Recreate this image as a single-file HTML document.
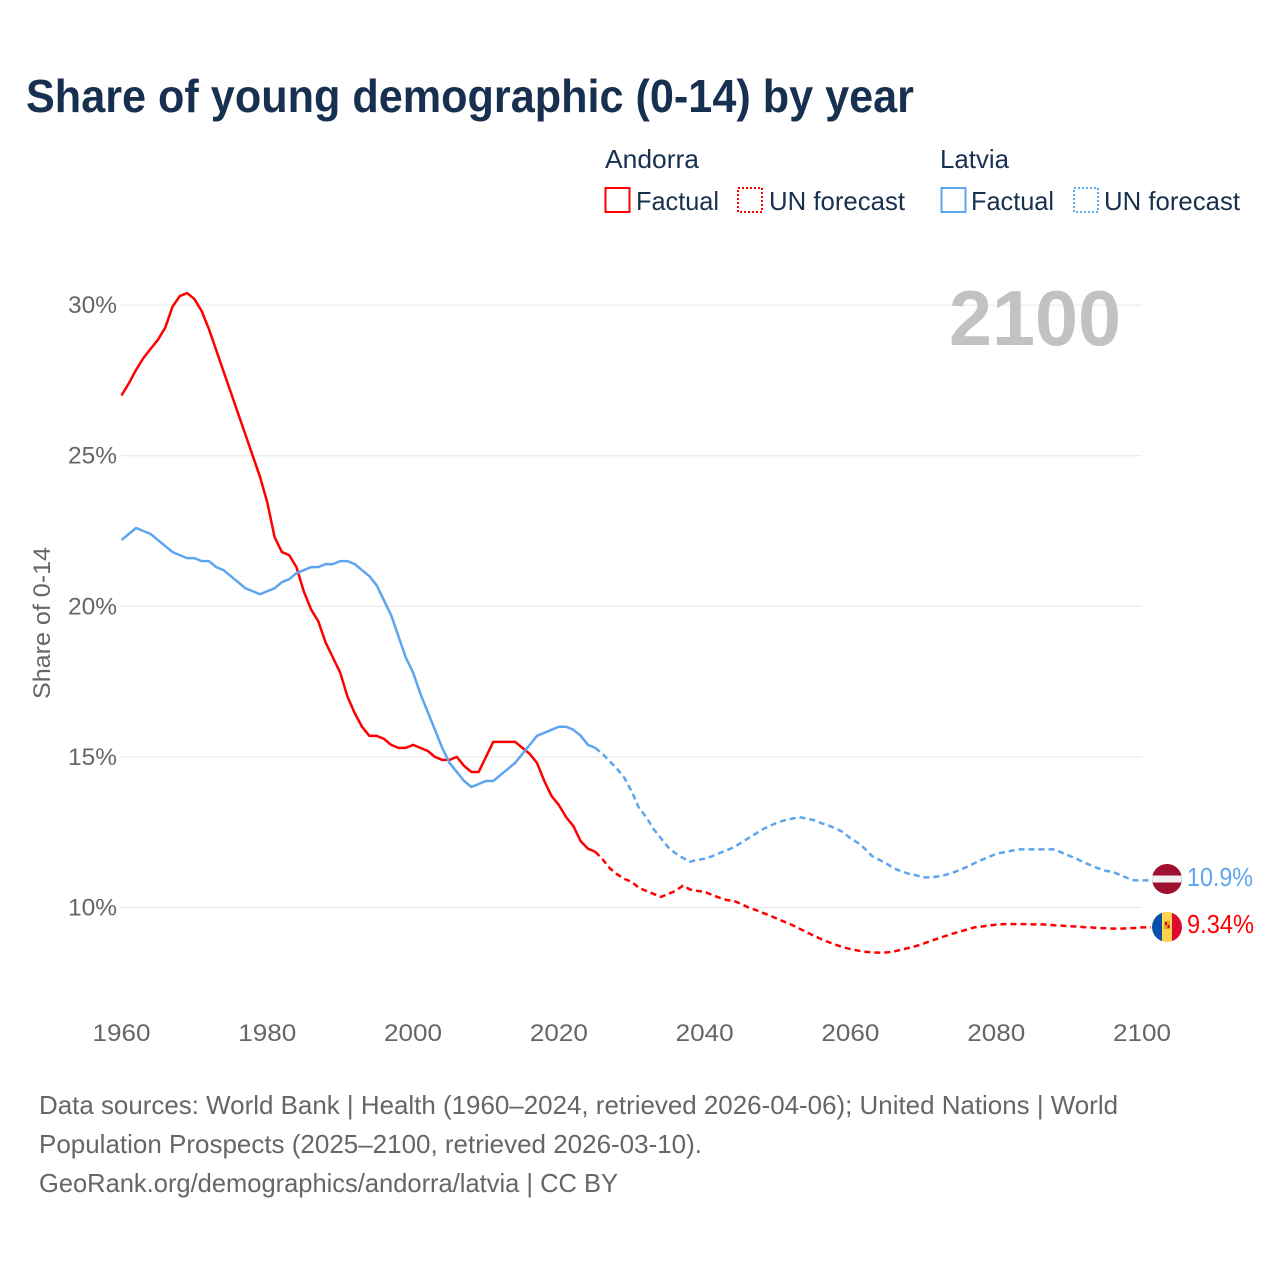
<!DOCTYPE html>
<html lang="en">
<head>
<meta charset="utf-8">
<title>Share of young demographic (0-14) by year</title>
<style>
html,body{margin:0;padding:0;background:#fff;width:1280px;height:1280px;overflow:hidden}
svg{display:block}
text{font-family:"Liberation Sans",sans-serif}
</style>
</head>
<body>
<svg id="chart" xmlns="http://www.w3.org/2000/svg" width="1280" height="1280" viewBox="0 0 1280 1280">
  <defs>
    <clipPath id="clip-lv"><circle cx="1167" cy="879" r="15"/></clipPath>
    <clipPath id="clip-ad"><circle cx="1167" cy="927" r="15"/></clipPath>
  </defs>
  <rect width="1280" height="1280" fill="#fff"/>
  <text x="26" y="112" font-size="46" font-weight="700" fill="#18304f" textLength="888" lengthAdjust="spacingAndGlyphs">Share of young demographic (0-14) by year</text>

  <g font-size="26" fill="#18304f">
    <text x="605" y="168" textLength="94" lengthAdjust="spacingAndGlyphs">Andorra</text>
    <text x="940" y="168" textLength="69" lengthAdjust="spacingAndGlyphs">Latvia</text>
    <rect x="605.5" y="188" width="24" height="24" fill="none" stroke="#ff0000" stroke-width="2"/>
    <text x="636" y="210" textLength="83" lengthAdjust="spacingAndGlyphs">Factual</text>
    <rect x="738" y="188" width="24" height="24" fill="none" stroke="#ff0000" stroke-width="2" stroke-dasharray="2 2"/>
    <text x="769" y="210" textLength="136" lengthAdjust="spacingAndGlyphs">UN forecast</text>
    <rect x="941.5" y="188" width="24" height="24" fill="none" stroke="#5da5ee" stroke-width="2"/>
    <text x="971" y="210" textLength="83" lengthAdjust="spacingAndGlyphs">Factual</text>
    <rect x="1074" y="188" width="24" height="24" fill="none" stroke="#5da5ee" stroke-width="2" stroke-dasharray="2 2"/>
    <text x="1104" y="210" textLength="136" lengthAdjust="spacingAndGlyphs">UN forecast</text>
  </g>

  <g id="grid"></g>
  <text x="949" y="345" font-size="78" font-weight="700" fill="#bfbfbf" fill-opacity="0.95" textLength="172" lengthAdjust="spacingAndGlyphs">2100</text>
  <g id="yticks"></g>
  <g id="xticks"></g>
  <text transform="translate(50 623) rotate(-90)" text-anchor="middle" font-size="24" fill="#666" textLength="152" lengthAdjust="spacingAndGlyphs">Share of 0-14</text>
  <g id="series"></g>

  <g clip-path="url(#clip-lv)">
    <rect x="1152" y="864" width="30" height="30" fill="#9e1030"/>
    <rect x="1152" y="875.5" width="30" height="7" fill="#f0f0f0"/>
  </g>
  <g clip-path="url(#clip-ad)">
    <rect x="1152" y="912" width="10" height="30" fill="#0a50a8"/>
    <rect x="1162" y="912" width="10" height="30" fill="#ffd34d"/>
    <rect x="1172" y="912" width="10" height="30" fill="#dc0a2d"/>
    <rect x="1164" y="921" width="6" height="8" fill="#e8a020"/>
    <rect x="1165" y="922" width="2" height="3" fill="#c01020"/>
    <rect x="1167.5" y="925" width="2" height="3" fill="#c01020"/>
  </g>
  <text id="label-lv" x="1187" y="886" font-size="26" fill="#5da5ee" textLength="66" lengthAdjust="spacingAndGlyphs">10.9%</text>
  <text id="label-ad" x="1187" y="933" font-size="26" fill="#ff0000" textLength="67" lengthAdjust="spacingAndGlyphs">9.34%</text>

  <g font-size="26" fill="#666">
    <text x="39" y="1114" textLength="1079" lengthAdjust="spacingAndGlyphs">Data sources: World Bank | Health (1960–2024, retrieved 2026-04-06); United Nations | World</text>
    <text x="39" y="1153" textLength="663" lengthAdjust="spacingAndGlyphs">Population Prospects (2025–2100, retrieved 2026-03-10).</text>
    <text x="39" y="1192" textLength="579" lengthAdjust="spacingAndGlyphs">GeoRank.org/demographics/andorra/latvia | CC BY</text>
  </g>
</svg>
<script>
const startYear = 1960;
const lastFactualYear = 2025;
const xTicks = [1960, 1980, 2000, 2020, 2040, 2060, 2080, 2100];
const yTicks = [10, 15, 20, 25, 30];
const andorraValues = [
  27.0,27.4,27.85,28.24,28.55,28.85,29.25,29.95,30.3,30.4,
  30.2,29.8,29.2,28.5,27.8,27.1,26.4,25.7,25.0,24.3,
  23.45,22.3,21.8,21.7,21.3,20.5,19.9,19.5,18.8,18.3,
  17.8,17.0,16.45,16.0,15.7,15.7,15.6,15.4,15.3,15.3,
  15.4,15.3,15.2,15.0,14.9,14.9,15.0,14.7,14.5,14.5,
  15.0,15.5,15.5,15.5,15.5,15.3,15.1,14.8,14.2,13.7,
  13.4,13.0,12.7,12.2,11.95,11.85,
  11.6,11.3,11.1,10.95,
  10.85,10.65,10.55,10.45,10.35,10.45,10.55,10.72,10.6,10.55,
  10.52,10.42,10.33,10.25,10.22,10.12,10.0,9.92,9.82,9.73,
  9.62,9.52,9.42,9.3,9.18,9.06,8.95,8.85,8.76,8.68,
  8.62,8.57,8.53,8.51,8.5,8.51,8.54,8.6,8.66,8.72,
  8.8,8.89,8.97,9.05,9.13,9.2,9.27,9.34,9.37,9.4,
  9.43,9.45,9.45,9.45,9.45,9.44,9.44,9.43,9.41,9.40,
  9.38,9.37,9.35,9.34,9.32,9.31,9.30,9.30,9.31,9.32,
  9.34
];
const latviaValues = [
  22.2,22.4,22.6,22.5,22.4,22.2,22.0,21.8,21.7,21.6,
  21.6,21.5,21.5,21.3,21.2,21.0,20.8,20.6,20.5,20.4,
  20.5,20.6,20.8,20.9,21.1,21.2,21.3,21.3,21.4,21.4,
  21.5,21.5,21.4,21.2,21.0,20.7,20.2,19.7,19.0,18.3,
  17.8,17.1,16.5,15.9,15.3,14.8,14.5,14.2,14.0,14.1,
  14.2,14.2,14.4,14.6,14.8,15.1,15.4,15.7,15.8,15.9,
  16.0,16.0,15.9,15.7,15.4,15.3,
  15.1,14.85,14.6,14.3,
  13.85,13.3,13.0,12.6,12.3,12.0,11.8,11.65,11.52,11.58,
  11.62,11.7,11.8,11.9,12.0,12.15,12.3,12.45,12.6,12.72,
  12.82,12.9,12.95,13.0,12.95,12.9,12.8,12.72,12.62,12.5,
  12.3,12.15,11.95,11.7,11.58,11.45,11.3,11.2,11.12,11.07,
  11.0,11.0,11.03,11.08,11.15,11.25,11.35,11.47,11.58,11.68,
  11.78,11.83,11.88,11.93,11.93,11.93,11.93,11.93,11.93,11.82,
  11.72,11.62,11.5,11.4,11.3,11.22,11.18,11.08,10.98,10.9,
  10.9
];

const NS = 'http://www.w3.org/2000/svg';
function xScale(year){ return 121.5 + (year - 1960) * (1142 - 121.5) / 140; }
function yScale(value){ return 907.5 - (value - 10) * 30.12; }

const grid = document.getElementById('grid');
const yGroup = document.getElementById('yticks');
yTicks.forEach(function(t){
  const line = document.createElementNS(NS, 'line');
  
  
  line.setAttribute('x1', 121);
  line.setAttribute('x2', 1142);
  line.setAttribute('y1', yScale(t));
  line.setAttribute('y2', yScale(t));
  line.setAttribute('stroke', '#e6e6e6');
  line.setAttribute('stroke-width', '1');
  grid.appendChild(line);
  const label = document.createElementNS(NS, 'text');
  
  
  label.setAttribute('x', 117);
  label.setAttribute('y', yScale(t) + 8);
  label.setAttribute('text-anchor', 'end');
  label.setAttribute('font-size', '24');
  label.setAttribute('fill', '#666');
  label.setAttribute('textLength', '49');
  label.setAttribute('lengthAdjust', 'spacingAndGlyphs');
  label.textContent = t + '%';
  yGroup.appendChild(label);
});

const xGroup = document.getElementById('xticks');
xTicks.forEach(function(t){
  const label = document.createElementNS(NS, 'text');
  
  
  label.setAttribute('x', xScale(t));
  label.setAttribute('y', 1041);
  label.setAttribute('text-anchor', 'middle');
  label.setAttribute('font-size', '24');
  label.setAttribute('fill', '#666');
  label.setAttribute('textLength', '58');
  label.setAttribute('lengthAdjust', 'spacingAndGlyphs');
  label.textContent = t;
  xGroup.appendChild(label);
});

function pathFor(values, from, to){
  const pts = [];
  for (let i = 0; i < values.length; i++) {
    const yr = startYear + i;
    if (yr >= from && yr <= to) pts.push(xScale(yr).toFixed(2) + ',' + yScale(values[i]).toFixed(2));
  }
  return 'M' + pts.join('L');
}

const series = document.getElementById('series');
function drawSeries(values, color, dashName, solidName){
  const solid = document.createElementNS(NS, 'path');
  
  
  solid.setAttribute('d', pathFor(values, startYear, lastFactualYear));
  solid.setAttribute('fill', 'none');
  solid.setAttribute('stroke', color);
  solid.setAttribute('stroke-width', '2.5');
  solid.setAttribute('stroke-linejoin', 'round');
  series.appendChild(solid);
  const dashed = document.createElementNS(NS, 'path');
  
  
  const last = values[values.length - 1];
  dashed.setAttribute('d', pathFor(values, lastFactualYear, 2100) + 'L1151,' + yScale(last).toFixed(2));
  dashed.setAttribute('fill', 'none');
  dashed.setAttribute('stroke', color);
  dashed.setAttribute('stroke-width', '2.5');
  dashed.setAttribute('stroke-dasharray', '6 4');
  series.appendChild(dashed);
}
drawSeries(andorraValues, '#ff0000', 'andorra-forecast-line', 'andorra-factual-line');
drawSeries(latviaValues, '#5da5ee', 'latvia-forecast-line', 'latvia-factual-line');
</script>
</body>
</html>
